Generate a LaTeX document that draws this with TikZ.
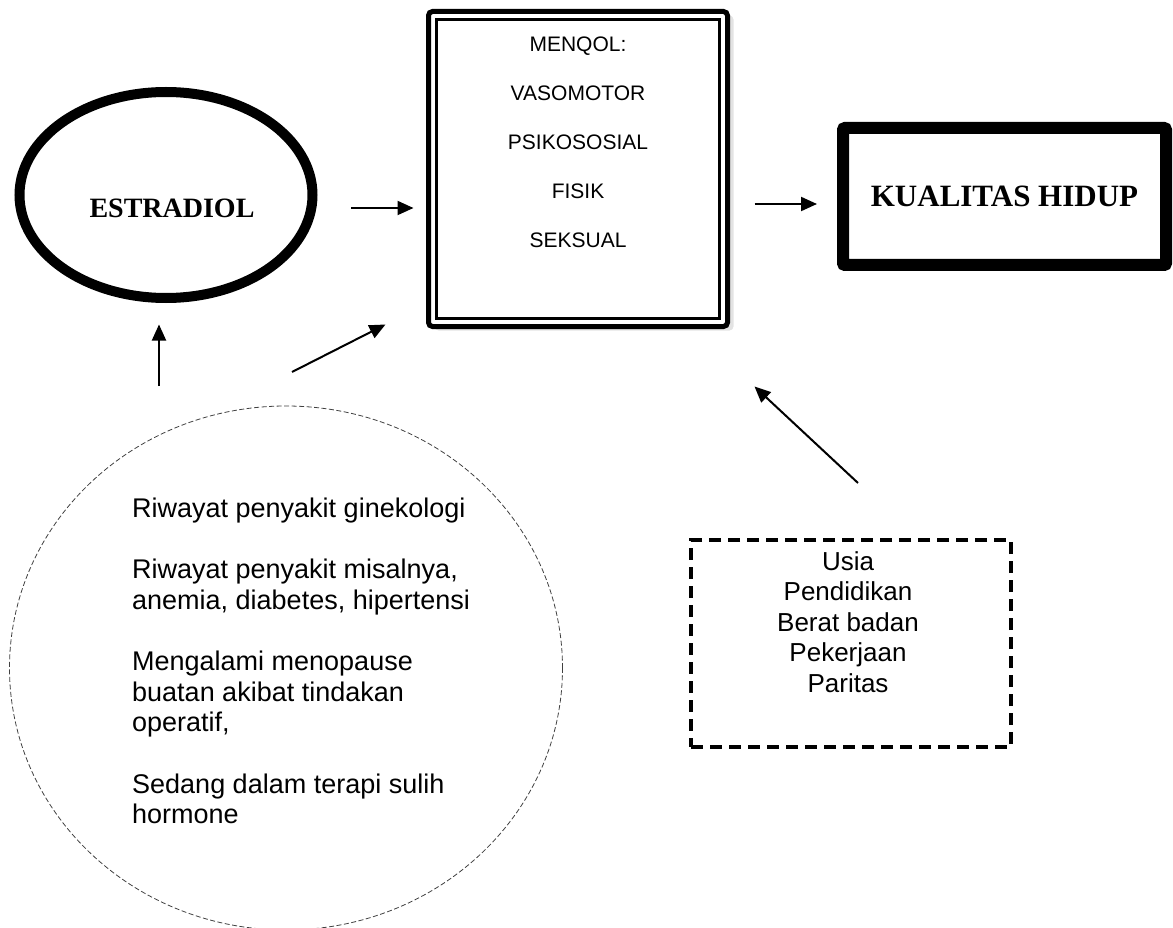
\documentclass[tikz,border=0pt]{standalone}
\usepackage{fontspec}
\setmainfont{Liberation Sans}
\newfontfamily\judulfont{Liberation Serif}
\usetikzlibrary{arrows.meta}
\usetikzlibrary{shapes}
\usetikzlibrary{shadows}

\begin{document}
\begin{tikzpicture}[x=1pt, y=-1pt]
   \tikzset{Panah/.style={line width=2pt, -{Triangle[length=16pt,width=14pt]}}}
   \tikzset{Oval/.style={ellipse, draw, line width=10pt, inner sep=0pt, outer sep=0pt,
      minimum width=293pt, minimum height=206pt}}
   \tikzset{Kotak/.style={rectangle, draw, fill=white, line width=5pt, rounded corners=4pt,
      inner sep=0pt, outer sep=0pt, minimum width=299pt, minimum height=315pt,
      drop shadow={opacity=0.22, shadow xshift=6pt, shadow yshift=-4pt}}}
   \tikzset{Hasil/.style={rectangle, draw, line width=12pt, rounded corners=2pt,
      inner sep=0pt, outer sep=0pt, minimum width=323pt, minimum height=137pt,
      font={\judulfont\bfseries\fontsize{31}{36}\selectfont}}}
   \tikzset{Lingkar/.style={ellipse, draw=black!75, line width=0.8pt,
      dash pattern=on 5pt off 2.5pt, inner sep=0pt, outer sep=0pt,
      minimum width=553pt, minimum height=524pt}}
   \tikzset{Putus/.style={rectangle, draw, line width=4pt, dash pattern=on 12pt off 7pt,
      inner sep=0pt, outer sep=0pt, minimum width=320pt, minimum height=207pt}}
   \useasboundingbox (0,0) rectangle (1173,928);
   % node utama
   \node[Oval] (estradiol) at (166,195) {};
   \node[font={\judulfont\bfseries\fontsize{28}{32}\selectfont}] (estradiolteks)
      at ([xshift=6pt,yshift=-13pt]estradiol.center) {ESTRADIOL};
   \node[Kotak] (menqol) at (578,169) {};
   \draw[line width=3pt] ([xshift=8pt,yshift=-8pt]menqol.north west)
      rectangle ([xshift=-8pt,yshift=8pt]menqol.south east);
   \node[align=center, font={\fontsize{21}{49}\selectfont}] (menqolteks) at (578,142)
      {MENQOL:\\VASOMOTOR\\PSIKOSOSIAL\\FISIK\\SEKSUAL};
   \node[Hasil] (kualitas) at (1004.5,196.5) {KUALITAS HIDUP};
   \node[Lingkar] (faktor) at (286,668) {};
   \node[align=left, anchor=west, inner sep=0pt, font={\fontsize{27}{30.5}\selectfont}] (faktorteks) at (132,661)
      {Riwayat penyakit ginekologi\\[31pt]
       Riwayat penyakit misalnya,\\anemia, diabetes, hipertensi\\[31pt]
       Mengalami menopause\\buatan akibat tindakan\\operatif,\\[31pt]
       Sedang dalam terapi sulih\\hormone};
   \node[Putus] (lainnya) at (851,643.5) {};
   \node[align=center, font={\fontsize{26}{30.5}\selectfont}] (lainnyateks) at (848,622)
      {Usia\\Pendidikan\\Berat badan\\Pekerjaan\\Paritas};
   % panah
   \draw[Panah] ([xshift=38.5pt,yshift=-13pt]estradiol.east) -- ([xshift=-15pt,yshift=-39pt]menqol.west);
   \draw[Panah] ([xshift=27pt,yshift=-35pt]menqol.east) -- ([xshift=-26pt,yshift=-7.5pt]kualitas.west);
   \draw[Panah] ([xshift=-127pt,yshift=20pt]faktor.north) -- ([xshift=-7pt,yshift=-26.5pt]estradiol.south);
   \draw[Panah] ([xshift=6pt,yshift=34pt]faktor.north) -- ([xshift=-43pt,yshift=2pt]menqol.south west);
   \draw[Panah] ([xshift=7pt,yshift=57pt]lainnya.north) -- ([xshift=27pt,yshift=-60pt]menqol.south east);
\end{tikzpicture}
\end{document}
